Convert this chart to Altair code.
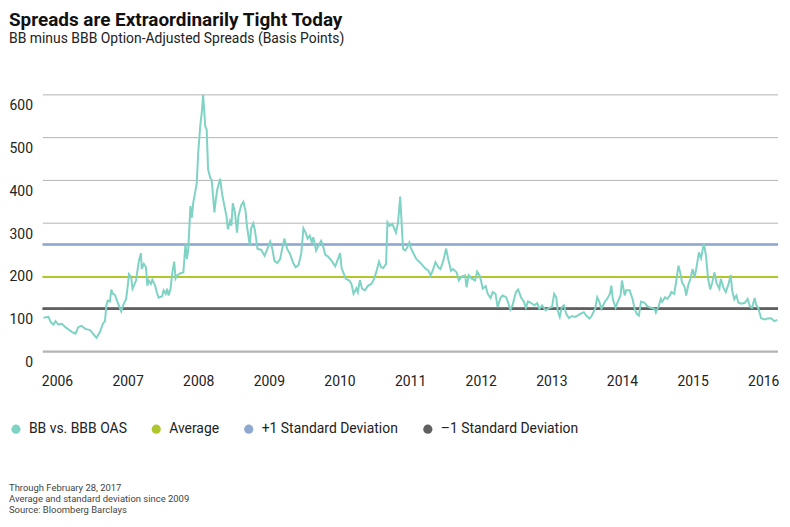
import altair as alt
import pandas as pd

YEARS = [
    2005.81, 2005.88, 2005.91, 2005.95, 2005.98, 2006.02, 2006.07, 2006.12, 2006.16, 2006.21,
    2006.26, 2006.28, 2006.30, 2006.35, 2006.40, 2006.47, 2006.51, 2006.56, 2006.61, 2006.65,
    2006.68, 2006.70, 2006.72, 2006.75, 2006.77, 2006.79, 2006.82, 2006.84, 2006.89, 2006.91,
    2006.94, 2006.98, 2007.00, 2007.02, 2007.05, 2007.07, 2007.09, 2007.12, 2007.14, 2007.16,
    2007.19, 2007.20, 2007.23, 2007.26, 2007.28, 2007.30, 2007.33, 2007.35, 2007.39, 2007.42,
    2007.44, 2007.49, 2007.51, 2007.54, 2007.56, 2007.58, 2007.61, 2007.63, 2007.66, 2007.68,
    2007.70, 2007.75, 2007.79, 2007.82, 2007.84, 2007.86, 2007.89, 2007.91, 2007.93, 2007.96,
    2007.98, 2008.00, 2008.03, 2008.05, 2008.07, 2008.10, 2008.12, 2008.14, 2008.17, 2008.19,
    2008.23, 2008.25, 2008.27, 2008.31, 2008.34, 2008.38, 2008.40, 2008.42, 2008.45, 2008.47,
    2008.49, 2008.52, 2008.55, 2008.57, 2008.61, 2008.64, 2008.67, 2008.69, 2008.73, 2008.75,
    2008.78, 2008.80, 2008.82, 2008.84, 2008.89, 2008.94, 2008.98, 2009.02, 2009.05, 2009.08,
    2009.12, 2009.16, 2009.19, 2009.22, 2009.26, 2009.30, 2009.35, 2009.38, 2009.42, 2009.46,
    2009.49, 2009.52, 2009.55, 2009.58, 2009.61, 2009.63, 2009.67, 2009.70, 2009.74, 2009.76,
    2009.80, 2009.84, 2009.89, 2009.94, 2009.97, 2010.01, 2010.03, 2010.05, 2010.09, 2010.14,
    2010.17, 2010.20, 2010.24, 2010.26, 2010.29, 2010.32, 2010.36, 2010.40, 2010.45, 2010.48,
    2010.52, 2010.56, 2010.59, 2010.62, 2010.66, 2010.68, 2010.71, 2010.75, 2010.80, 2010.83,
    2010.86, 2010.88, 2010.90, 2010.93, 2010.96, 2010.99, 2011.01, 2011.04, 2011.09, 2011.13,
    2011.16, 2011.21, 2011.26, 2011.29, 2011.32, 2011.36, 2011.40, 2011.43, 2011.47, 2011.51,
    2011.54, 2011.58, 2011.61, 2011.66, 2011.69, 2011.73, 2011.78, 2011.80, 2011.83, 2011.87,
    2011.92, 2011.95, 2011.99, 2012.03, 2012.07, 2012.10, 2012.14, 2012.17, 2012.21, 2012.24,
    2012.28, 2012.31, 2012.36, 2012.39, 2012.42, 2012.45, 2012.50, 2012.53, 2012.57, 2012.61,
    2012.64, 2012.67, 2012.71, 2012.76, 2012.80, 2012.83, 2012.87, 2012.92, 2012.97, 2013.01,
    2013.04, 2013.07, 2013.09, 2013.12, 2013.15, 2013.18, 2013.21, 2013.25, 2013.29, 2013.34,
    2013.41, 2013.46, 2013.50, 2013.54, 2013.57, 2013.62, 2013.65, 2013.68, 2013.71, 2013.76,
    2013.79, 2013.83, 2013.85, 2013.87, 2013.91, 2013.94, 2013.98, 2014.00, 2014.04, 2014.06,
    2014.11, 2014.15, 2014.18, 2014.21, 2014.24, 2014.27, 2014.32, 2014.36, 2014.41, 2014.46,
    2014.48, 2014.52, 2014.55, 2014.57, 2014.61, 2014.64, 2014.68, 2014.70, 2014.74, 2014.77,
    2014.80, 2014.83, 2014.85, 2014.89, 2014.91, 2014.94, 2014.97, 2015.00, 2015.03, 2015.06,
    2015.09, 2015.12, 2015.16, 2015.19, 2015.22, 2015.25, 2015.28, 2015.31, 2015.34, 2015.38,
    2015.40, 2015.44, 2015.47, 2015.51, 2015.54, 2015.56, 2015.59, 2015.62, 2015.65, 2015.69,
    2015.74, 2015.78, 2015.81, 2015.84, 2015.88, 2015.90, 2015.93, 2015.97, 2016.02, 2016.06,
    2016.11, 2016.16, 2016.20,
]

SPREAD = [
    79, 81, 69, 63, 71, 63, 65, 57, 52, 46,
    42, 48, 57, 60, 53, 50, 42, 32, 46, 65,
    71, 108, 119, 117, 145, 135, 133, 123, 102, 94,
    109, 123, 150, 181, 174, 147, 154, 166, 189, 212,
    230, 193, 205, 197, 154, 166, 158, 168, 154, 135,
    126, 129, 143, 135, 147, 131, 147, 181, 210, 171,
    178, 183, 185, 251, 216, 240, 340, 313, 348, 375,
    395, 464, 530, 557, 600, 526, 519, 426, 406, 402,
    325, 356, 379, 404, 367, 333, 317, 286, 305, 294,
    347, 325, 278, 317, 342, 350, 329, 294, 249, 288,
    300, 286, 264, 240, 238, 224, 240, 257, 240, 212,
    207, 216, 241, 264, 240, 228, 205, 197, 202, 230,
    288, 278, 264, 271, 255, 267, 236, 247, 259, 251,
    226, 222, 212, 199, 212, 230, 195, 187, 170, 166,
    158, 135, 148, 139, 167, 147, 143, 153, 158, 166,
    185, 210, 197, 195, 205, 302, 294, 298, 278, 302,
    362, 302, 240, 236, 243, 255, 243, 232, 216, 210,
    205, 195, 189, 178, 189, 209, 197, 193, 212, 241,
    216, 189, 193, 185, 166, 175, 178, 150, 179, 171,
    166, 187, 176, 147, 153, 135, 125, 139, 135, 104,
    125, 131, 127, 114, 98, 108, 139, 145, 127, 117,
    102, 117, 114, 108, 113, 100, 108, 96, 102, 104,
    135, 127, 96, 81, 104, 108, 88, 78, 83, 81,
    88, 92, 83, 77, 83, 100, 127, 116, 100, 117,
    123, 135, 154, 123, 102, 116, 131, 166, 131, 143,
    143, 123, 100, 88, 84, 117, 114, 106, 102, 100,
    91, 106, 123, 116, 127, 123, 131, 139, 135, 166,
    201, 181, 162, 150, 131, 156, 170, 193, 174, 201,
    232, 218, 253, 224, 170, 145, 162, 185, 160, 147,
    170, 148, 139, 158, 179, 143, 122, 131, 114, 112,
    114, 123, 106, 102, 125, 109, 102, 78, 75, 77,
    78, 71, 74,
]

SERIES_NAME = "BB vs. BBB OAS"
REF_NAMES = ["Average", "+1 Standard Deviation", "\u20131 Standard Deviation"]
REF_VALUES = [175, 250, 100]
GRID_VALUES = [0, 100, 300, 400, 500, 600]
Y_TICKS = [0, 100, 200, 300, 400, 500, 600]
X_TICKS = list(range(2006, 2017))
FOOTNOTES = [
    "Through February 28, 2017",
    "Average and standard deviation since 2009",
    "Source: Bloomberg Barclays",
]

# styles
LINE_COLOR = "#7fd3c4"
REF_COLORS = ["#b0c62c", "#8fa8d2", "#606060"]
REF_WIDTHS = [1.5, 1.5, 2]
FONT = "Roboto"
TEXT = "#222222"

series_df = pd.DataFrame({"year": YEARS, "spread": SPREAD})
grid_df = pd.DataFrame({"v": GRID_VALUES})
legend_df = pd.DataFrame({"name": [SERIES_NAME] + REF_NAMES})
foot_df = pd.DataFrame({"t": ["\n".join(FOOTNOTES)]})

x_scale = alt.Scale(domain=[2005.80, 2016.21], nice=False, zero=False)
y_scale = alt.Scale(domain=[0, 600], nice=False)

x_axis = alt.Axis(values=X_TICKS, format="d", title=None, grid=False, domain=False,
                  ticks=False, tickSize=0, labelPadding=23, labelFont=FONT,
                  labelFontSize=14, labelColor=TEXT, labelFlush=False, labelOverlap=False)
y_axis = alt.Axis(values=Y_TICKS, title=None, grid=False, domain=False, ticks=False,
                  tickSize=0, labelPadding=10.4, labelOffset=11, labelFont=FONT,
                  labelFontSize=14, labelColor=TEXT, labelFlush=False, labelOverlap=False)

grid = alt.Chart(grid_df).mark_rule(color="#b3b3b3").encode(
    y=alt.Y("v:Q", scale=y_scale, axis=y_axis),
    strokeWidth=alt.condition("datum.v == 0", alt.value(2.2), alt.value(1)),
)

refs = [
    alt.Chart(grid_df).mark_rule(color=c, strokeWidth=w).encode(y=alt.datum(v, scale=y_scale))
    for v, c, w in zip(REF_VALUES, REF_COLORS, REF_WIDTHS)
]

line = alt.Chart(series_df).mark_line(color=LINE_COLOR, strokeWidth=2).encode(
    x=alt.X("year:Q", scale=x_scale, axis=x_axis),
    y=alt.Y("spread:Q", scale=y_scale, axis=y_axis),
)

legend_pts = alt.Chart(legend_df).mark_circle(opacity=0).encode(
    color=alt.Color(
        "name:N",
        scale=alt.Scale(domain=[SERIES_NAME] + REF_NAMES, range=[LINE_COLOR] + REF_COLORS),
        sort=None,
        legend=alt.Legend(
            title=None, orient="none", legendX=-34, legendY=329, direction="horizontal",
            symbolType="circle", symbolSize=85, symbolOpacity=1, symbolStrokeWidth=0,
            labelFont=FONT, labelFontSize=14, labelColor=TEXT, labelOffset=6,
            columnPadding=22, padding=0, labelLimit=300,
        ),
    ),
)

footer = alt.Chart(foot_df).mark_text(
    align="left", baseline="top", lineBreak="\n", font=FONT, fontSize=9.5,
    lineHeight=11, color="#444444",
).encode(text="t:N", x=alt.value(-34), y=alt.value(390))

chart = alt.layer(grid, *refs, line, legend_pts, footer).properties(
    width=739,
    height=258,
    padding={"top": 2, "left": 0, "right": 0, "bottom": 0},
    title=alt.Title(
        "Spreads are Extraordinarily Tight Today",
        subtitle="BB minus BBB Option-Adjusted Spreads (Basis Points)",
        anchor="start", frame="bounds", font=FONT, fontSize=19, fontWeight="bold",
        color="#111111", subtitleFont=FONT, subtitleFontSize=14, subtitleColor=TEXT,
        subtitlePadding=2, offset=45,
    ),
).configure_view(stroke=None)

chart.save("out.html", embed_options={"renderer": "svg", "actions": False})
